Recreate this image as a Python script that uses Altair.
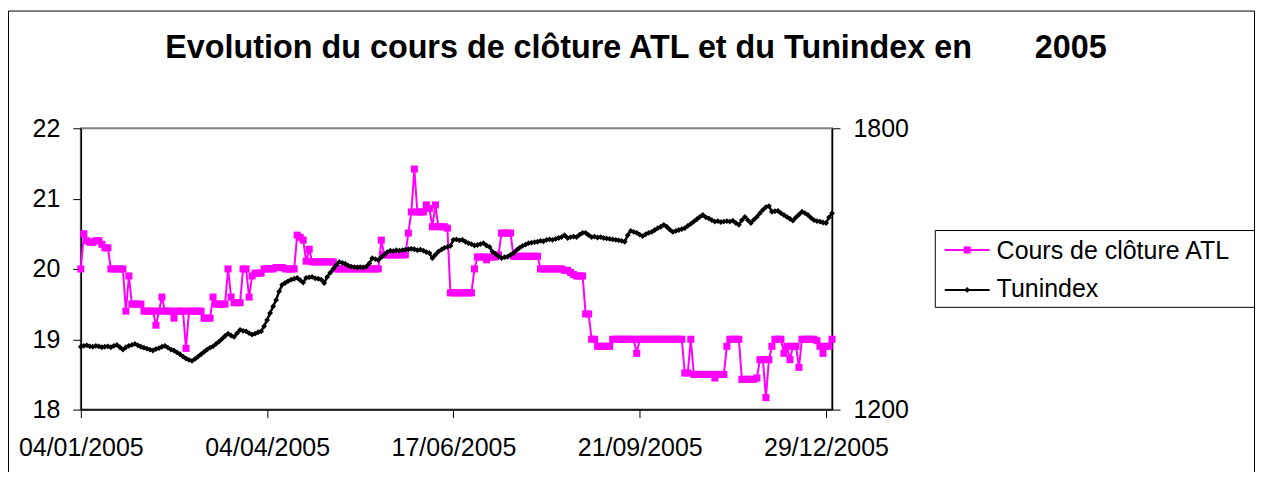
import altair as alt
import pandas as pd

FONT = "Liberation Sans"
PINK = "#FF00FF"

title_text = "Evolution du cours de clôture ATL et du Tunindex en" + "\u00a0" * 7 + "2005"
series_names = ["Cours de clôture ATL", "Tunindex"]
tick_index = [0, 62, 124, 186, 248]
tick_labels = ["04/01/2005", "04/04/2005", "17/06/2005", "21/09/2005", "29/12/2005"]
left_ticks = [18, 19, 20, 21, 22]
right_ticks = [1200, 1800]

atl = [
    20.0, 20.5, 20.4, 20.38, 20.38, 20.4, 20.4, 20.35, 20.3, 20.3,
    20.0, 20.0, 20.0, 20.0, 20.0, 19.4, 19.9, 19.5, 19.5, 19.5,
    19.5, 19.4, 19.4, 19.4, 19.4, 19.2, 19.4, 19.6, 19.4, 19.4,
    19.4, 19.3, 19.4, 19.4, 19.4, 18.87, 19.4, 19.4, 19.4, 19.4,
    19.4, 19.3, 19.3, 19.3, 19.6, 19.5, 19.5, 19.5, 19.5, 20.0,
    19.6, 19.52, 19.52, 19.52, 20.0, 20.0, 19.6, 19.9, 19.94, 19.94,
    19.94, 20.0, 20.0, 20.0, 20.0, 20.02, 20.02, 20.02, 20.0, 20.0,
    20.0, 20.0, 20.48, 20.45, 20.41, 20.11, 20.28, 20.1, 20.1, 20.1,
    20.1, 20.1, 20.1, 20.1, 20.1, 20.0, 20.0, 20.0, 20.0, 20.0,
    20.0, 20.0, 20.0, 20.0, 20.0, 20.0, 20.0, 20.0, 20.0, 20.0,
    20.41, 20.2, 20.2, 20.2, 20.2, 20.2, 20.2, 20.2, 20.2, 20.51,
    20.81, 21.42, 20.81, 20.81, 20.81, 20.91, 20.86, 20.6, 20.91, 20.6,
    20.6, 20.6, 20.58, 19.66, 19.66, 19.66, 19.66, 19.66, 19.66, 19.66,
    19.66, 20.0, 20.17, 20.17, 20.17, 20.13, 20.17, 20.17, 20.17, 20.2,
    20.51, 20.51, 20.51, 20.51, 20.18, 20.18, 20.18, 20.18, 20.18, 20.18,
    20.18, 20.18, 20.18, 20.0, 20.0, 20.0, 20.0, 20.0, 20.0, 20.0,
    20.0, 19.98, 19.98, 19.95, 19.92, 19.9, 19.9, 19.9, 19.36, 19.36,
    19.0, 19.0, 18.9, 18.9, 18.9, 18.9, 18.9, 19.0, 19.0, 19.0,
    19.0, 19.0, 19.0, 19.0, 19.0, 18.8, 19.0, 19.0, 19.0, 19.0,
    19.0, 19.0, 19.0, 19.0, 19.0, 19.0, 19.0, 19.0, 19.0, 19.0,
    19.0, 18.52, 18.52, 19.0, 18.5, 18.5, 18.5, 18.5, 18.5, 18.5,
    18.5, 18.45, 18.5, 18.5, 18.5, 18.9, 19.0, 19.0, 19.0, 19.0,
    18.43, 18.43, 18.43, 18.43, 18.43, 18.45, 18.71, 18.71, 18.17, 18.71,
    18.9, 19.0, 19.0, 19.0, 18.8, 18.9, 18.71, 18.9, 18.9, 18.6,
    19.0, 19.0, 19.0, 19.0, 19.0, 18.98, 18.9, 18.8, 18.9, 18.9,
    19.0,
]

tunindex = [
    1334, 1336, 1337, 1335, 1334, 1336, 1335, 1333, 1334, 1335,
    1333, 1336, 1338, 1333, 1328, 1333, 1336, 1338, 1340, 1337,
    1334, 1332, 1330, 1328, 1326, 1329, 1331, 1334, 1336, 1332,
    1328, 1326, 1322, 1318, 1313, 1309, 1306, 1304, 1308, 1313,
    1318, 1323, 1328, 1332, 1335, 1340, 1345, 1351, 1357, 1362,
    1358, 1355, 1363, 1370, 1368, 1367, 1363, 1360, 1362, 1365,
    1367, 1378, 1391, 1406, 1420, 1434, 1452, 1466, 1470, 1474,
    1477, 1479, 1481, 1476, 1471, 1481, 1482, 1483, 1480, 1479,
    1477, 1470, 1483, 1492, 1500, 1508, 1515, 1513, 1511, 1507,
    1505, 1504, 1503, 1504, 1503, 1505, 1512, 1523, 1521, 1519,
    1525, 1530, 1536, 1539, 1538, 1540, 1539, 1540, 1541, 1542,
    1543, 1542, 1540, 1541, 1539, 1536, 1534, 1523, 1530, 1537,
    1541, 1545, 1547, 1549, 1562, 1563, 1561, 1562, 1558, 1555,
    1553, 1550, 1551, 1553, 1555, 1550, 1547, 1537, 1532, 1527,
    1523, 1525, 1526, 1530, 1534, 1540, 1545, 1549, 1552, 1555,
    1556, 1557, 1558, 1560, 1559, 1562, 1563, 1562, 1564, 1566,
    1568, 1572, 1566, 1568, 1569, 1568, 1573, 1577, 1577, 1572,
    1568, 1569, 1567, 1568, 1566, 1565, 1564, 1563, 1562, 1561,
    1560, 1558, 1572, 1581, 1579, 1577, 1573, 1570, 1574, 1577,
    1579, 1583, 1587, 1590, 1594, 1590, 1584, 1579, 1581, 1583,
    1585, 1587, 1592, 1596, 1601, 1606, 1611, 1615, 1610, 1608,
    1604, 1601, 1602, 1600, 1601, 1602, 1601, 1603, 1598, 1594,
    1604, 1611, 1604, 1598, 1605, 1611, 1619, 1626, 1632, 1634,
    1622, 1623, 1624, 1619, 1615, 1611, 1607, 1603, 1610, 1616,
    1622, 1619, 1615, 1609, 1604, 1602, 1601, 1599, 1598, 1610,
    1619,
]

assert len(atl) == len(tunindex)
df = pd.DataFrame({"idx": list(range(len(atl))), "atl": atl, "tun": tunindex})
one = pd.DataFrame({"k": [0]})

label_expr = " : ".join(
    f"datum.value == {i} ? '{l}'" for i, l in zip(tick_index, tick_labels)
) + " : ''"

x_enc = alt.X(
    "idx:Q",
    scale=alt.Scale(domain=[0, len(atl) - 1], nice=False, zero=False),
    axis=alt.Axis(
        values=tick_index, labelExpr=label_expr, tickSize=8, labelPadding=18,
        labelFlush=False, labelOverlap=False, title=None, grid=False,
    ),
)

atl_layer = alt.Chart(df).mark_line(
    color=PINK, strokeWidth=2,
    point=alt.OverlayMarkDef(shape="square", size=50, filled=True, color=PINK, opacity=1),
).encode(
    x=x_enc,
    y=alt.Y(
        "atl:Q",
        scale=alt.Scale(domain=[18, 22], nice=False, zero=False),
        axis=alt.Axis(values=left_ticks, orient="left", tickSize=8, labelPadding=13,
                      title=None, grid=False, format="d"),
    ),
)

tun_layer = alt.Chart(df).mark_line(
    color="black", strokeWidth=2.5,
    point=alt.OverlayMarkDef(shape="diamond", size=34, filled=True, color="black", opacity=1),
).encode(
    x=x_enc,
    y=alt.Y(
        "tun:Q",
        scale=alt.Scale(domain=[1200, 1800], nice=False, zero=False),
        axis=alt.Axis(values=right_ticks, orient="right", tickSize=8, labelPadding=13,
                      title=None, grid=False, format="d"),
    ),
)

data_layers = alt.layer(atl_layer, tun_layer).resolve_scale(y="independent")

# chart frame and legend box (plot origin is at page (81,128))
frame = alt.Chart(one).mark_rect(fillOpacity=0, stroke="black", strokeWidth=1).encode(
    x=alt.value(-72.5), x2=alt.value(1176.5), y=alt.value(-117.5), y2=alt.value(420)
)
legend_box = alt.Chart(one).mark_rect(fill="white", stroke="black", strokeWidth=1).encode(
    x=alt.value(856.5), x2=alt.value(1176.5), y=alt.value(102.5), y2=alt.value(179.5)
)
leg_rule1 = alt.Chart(one).mark_rule(color=PINK, strokeWidth=2).encode(
    x=alt.value(866), x2=alt.value(911), y=alt.value(122)
)
leg_pt1 = alt.Chart(one).mark_point(shape="square", size=50, filled=True, color=PINK, opacity=1).encode(
    x=alt.value(888.5), y=alt.value(122)
)
leg_txt1 = alt.Chart(one).mark_text(
    text=series_names[0], font=FONT, fontSize=25, align="left", baseline="alphabetic", color="black"
).encode(x=alt.value(918), y=alt.value(131))
leg_rule2 = alt.Chart(one).mark_rule(color="black", strokeWidth=2).encode(
    x=alt.value(866), x2=alt.value(911), y=alt.value(162)
)
leg_pt2 = alt.Chart(one).mark_point(shape="diamond", size=34, filled=True, color="black", opacity=1).encode(
    x=alt.value(888.5), y=alt.value(162)
)
leg_txt2 = alt.Chart(one).mark_text(
    text=series_names[1], font=FONT, fontSize=25, align="left", baseline="alphabetic", color="black"
).encode(x=alt.value(918), y=alt.value(169))
title = alt.Chart(one).mark_text(
    text=title_text, font=FONT, fontSize=32.4, fontWeight="bold", align="center",
    baseline="alphabetic", color="black"
).encode(x=alt.value(556.5), y=alt.value(-70))

chart = alt.layer(
    frame, data_layers, legend_box, leg_rule1, leg_pt1, leg_txt1,
    leg_rule2, leg_pt2, leg_txt2, title,
).properties(
    width=753, height=282,
    padding={"left": 73, "top": 120, "right": 424, "bottom": 62},
    autosize=alt.AutoSizeParams(type="none"),
    background="white",
).configure_view(
    stroke="#808080", strokeWidth=2,
).configure_axis(
    domainColor="black", domainWidth=1.5, tickColor="black", tickWidth=1,
    labelFont=FONT, labelFontSize=25, labelColor="black", grid=False,
)

chart.save("out.html", embed_options={"renderer": "svg", "actions": False})
